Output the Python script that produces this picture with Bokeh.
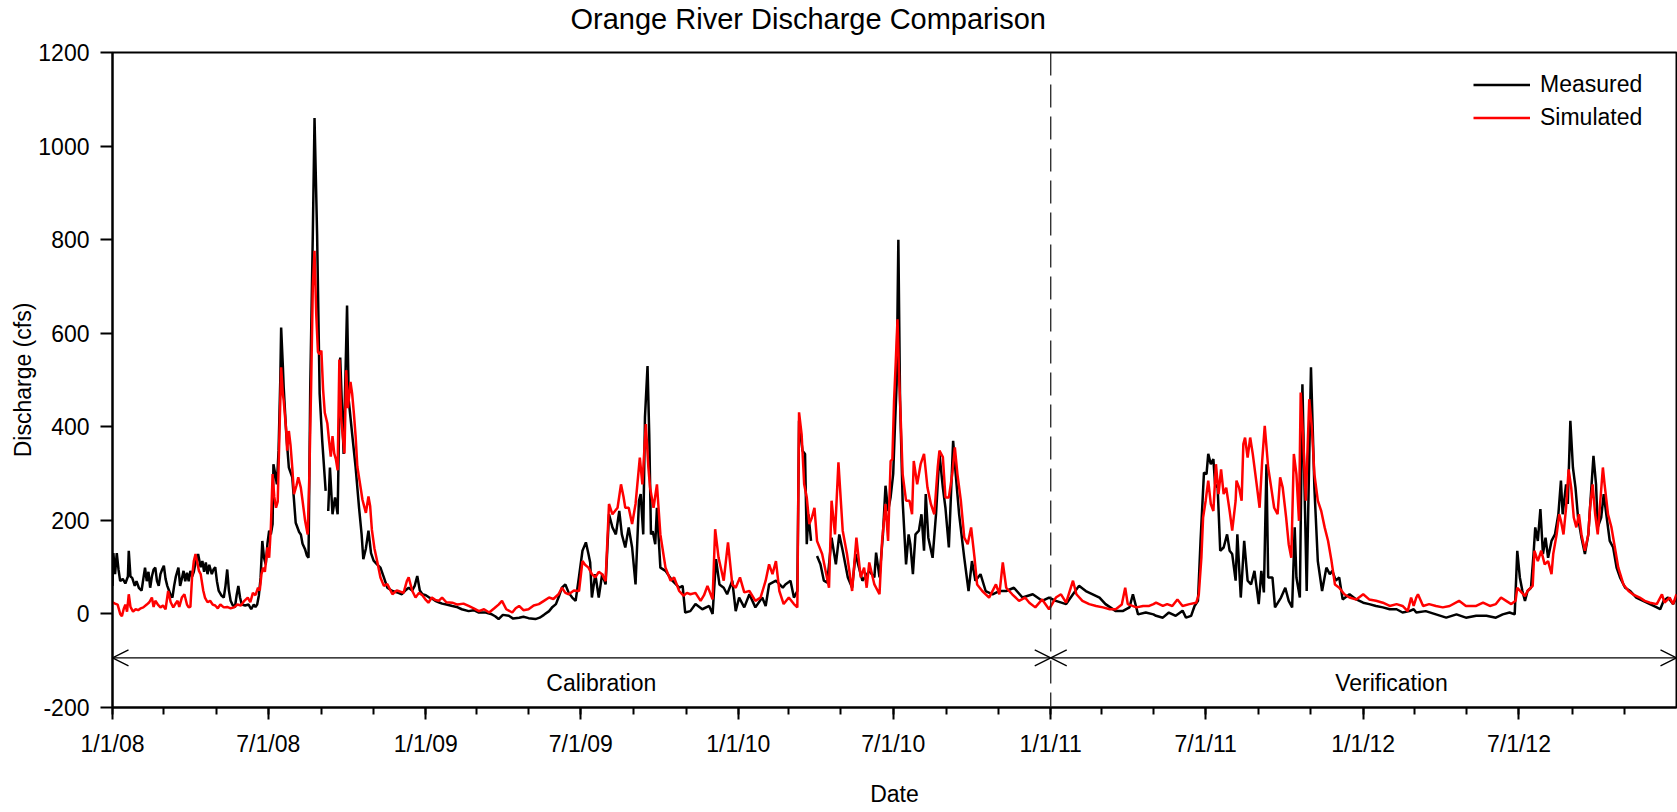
import numpy as np
import pandas as pd
from bokeh.plotting import figure
from bokeh.models import (ColumnDataSource, FixedTicker, Span, Arrow, OpenHead,
                          Label, Legend, LegendItem, Range1d, Title)
from bokeh.embed import file_html
from bokeh.resources import INLINE

NAN = float("nan")
START = "2008-01-01"
END = "2013-01-01"
SPLIT = "2011-01-01"

# ---- data: day offsets from 1/1/08 and discharge (cfs) ----
measured_day = [
    0, 1, 3, 5, 7, 9, 12, 15, 18, 19, 21, 23, 26, 28, 31, 34, 36, 38, 40, 42, 44, 46, 48, 50, 52, 54, 56, 58, 60, 62,
    64, 66, 68, 70, 72, 74, 77, 79, 81, 83, 85, 87, 89, 91, 93, 95, 97, 100, 103, 105, 107, 109, 111, 113, 116, 118,
    120, 122, 124, 127, 130, 132, 134, 136, 138, 140, 143, 145, 147, 149, 151, 155, 159, 162, 165, 167, 169, 171, 173,
    175, 177, 179, 181, 183, 185, 187, 188, 190, 192, 194, 196, 197, 199, 200, 203, 206, 210, 214, 218, 220, 222, 225,
    227, 229, 231, 234, 236, 239, 242, 245, 249, 250, 252, 254, 257, 260, 263, 266, 270, 274, 276, 280, 284, 288, 291,
    293, 296, 299, 302, 305, 309, 313, 317, 321, 327, 334, 338, 342, 346, 350, 353, 356, 359, 362, 366,
    370, 374, 377, 381, 385, 390, 397, 402, 408, 416, 422, 428, 436, 442, 447, 451, 456, 463, 468, 475, 480, 486, 494,
    499, 504, 510, 514, 518, 522, 525, 529, 533, 537, 541, 545, 549, 553, 556, 558, 560, 564, 568, 572, 576, 580, 584,
    588, 592, 595, 599, 603, 607, 611, 615, 617, 620, 622, 625, 627, 629, 631, 634, 636, 640, 646, 654, 662, 666, 669,
    675, 681, 689, 697, 701, 705, 709, 714, 718, 724, 728, 732,
    738, 744, 751, 759, 763, 767, 775, 783, 786, 792, 796, 800, 802, 806, 809, 811, 813, 816, 819, 823, 827, 831, 835,
    840, 845, 849, 853, 859, 864, 868, 872, 876, 884, 890, 892, 896, 900, 903, 906, 909, 912, 914, 916, 918, 920, 923,
    927, 930, 932, 935, 938, 942, 945, 948, 950, 953, 958, 962, 966, 970, 973, 977, 982, 985, 989, 995, 1000, 1004,
    1008, 1014, 1020, 1028, 1036, 1044, 1053, 1063, 1075, 1086, 1094,
    1102, 1114, 1122, 1129, 1137, 1145, 1153, 1160, 1172, 1180, 1188, 1192, 1198, 1207, 1216, 1219, 1227, 1234, 1242,
    1250, 1254, 1260, 1264, 1268, 1271, 1275, 1278, 1280, 1283, 1286, 1288, 1291, 1294, 1298, 1302, 1305, 1308, 1312,
    1314, 1318, 1322, 1326, 1330, 1334, 1339, 1342, 1345, 1348, 1350, 1355, 1358, 1365, 1370, 1374, 1378, 1381, 1383,
    1387, 1390, 1392, 1395, 1400, 1404, 1408, 1413, 1418, 1422, 1425, 1429, 1433, 1437, 1445, 1453, 1461,
    1468, 1476, 1484, 1492, 1500, 1507, 1515, 1520, 1523, 1534, 1546, 1558, 1570, 1581, 1593, 1605, 1616, 1624, 1632,
    1638, 1641, 1644, 1647, 1650, 1653, 1657, 1660, 1662, 1665, 1668, 1671, 1674, 1677, 1681, 1685, 1689, 1692, 1694,
    1698, 1700, 1703, 1706, 1709, 1712, 1716, 1720, 1724, 1726, 1730, 1733, 1735, 1739, 1742, 1745, 1749, 1753, 1757,
    1761, 1767, 1773, 1780, 1788, 1796, 1804, 1808, 1812, 1817, 1823, 1827,
]
measured_cfs = [
    60, 130, 85, 130, 95, 70, 75, 65, 80, 135, 80, 77, 60, 70, 55, 50, 75, 99, 70, 90, 56, 80, 95, 99, 70, 60, 85, 95, 103, 75,
    60, 50, 40, 35, 60, 80, 99, 60, 75, 92, 70, 88, 70, 92, 80, 90, 110, 128, 100, 113, 90, 110, 85, 105, 85, 95,
    100, 70, 50, 40, 35, 60, 95, 50, 28, 20, 14, 40, 60, 35, 20, 18, 20, 10, 20, 15, 20, 40, 77,
    156, 120, 106, 150, 178, 170, 192, 320, 300, 277, 349, 500, 612, 530, 484, 384, 313, 292, 195, 175, 170, 150, 138,
    125, 120, 484, 812, 1060, 812, 470, 370, 263, NAN, 220, 313, 213, 249, 213, 548, 342, 659, 456, 384, 313, 227, 170,
    117, 140, 178, 130, 114, 106, 99, 78, 56, 49, 45, 42, 50, 56, 50, 60, 81, 50, 42, 40,
    35, 32, 28, 25, 22, 20, 17, 15, 10, 6, 8, 3, 3, 0, -5, -11, -2, -4, -10, -8, -6, -9, -11,
    -8, -2, 6, 15, 21, 40, 56, 63, 45, 35, 28, 80, 135, 153, 128, 110, 35, 85, 35, 85, 63, 213, 185,
    170, 220, 170, 142, 185, 142, 63, 242, 256, 170, 420, 530, 384, 170, 177, 149, 227, 99, 92, 71, 56, 60, 3,
    6, 21, 10, 17, 0, 117, 63, 56, 42, 71, 6, 35,
    14, 42, 14, 35, 17, 63, 71, 56, 63, 71, 35, 49, 413, 349, 342, 149, 213, 156, NAN, 124, 106, 71, 67,
    163, 106, 170, 135, 78, 56, 128, 99, 71, 92, 78, 131, 78, 170, 274, 220, 250, 300, 400, 491, 800, 456, 242,
    106, 170, 149, 85, 170, 178, 213, 135, 256, 163, 120, 213, 342, 270, 227, 142, 370, 299, 213, 120, 49, 113,
    71, 85, 49, 42, 49, 49, 56, 35, 42, 28, 35,
    28, 21, 42, 60, 49, 42, 35, 21, 6, 6, 14, 42, -1, 3, -1, -4, -8, 3, -4,
    7, -8, -4, 17, 28, 156, 302, 299, 342, 320, 331, 277, 270, 135, 142, 170, 135, 128, 71,
    170, 35, 156, 71, 63, 92, 21, 92, 46, 320, 78, 78, 14, 35, 56, 28, 14, 185, 78,
    35, 491, 313, 49, 527, 270, 113, 49, 99, 85, 92, 71, 78, 31, 42, 31, 24,
    21, 17, 14, 10, 10, 3, 6, 10, 3, 6, -1, -8, -1, -8, -4, -4, -8, -1, 3,
    -1, 135, 78, 49, 28, 49, 56, 128, 185, 156, 224, 128, 163, 120, 156, 170, 213, 285, 213,
    277, 235, 413, 313, 270, 206, 163, 128, 170, 227, 338, 277, 185, 206, 256, 213, 156, 142, 99,
    78, 56, 49, 35, 28, 21, 14, 10, 28, 35, 21, 35,
]

simulated_day = [
    0, 3, 6, 9, 11, 13, 15, 17, 19, 21, 24, 27, 30, 33, 36, 40, 43, 46, 48, 50, 53, 56, 59, 62, 65, 68, 71, 73, 76, 78,
    81, 84, 87, 89, 91, 93, 95, 97, 99, 101, 103, 106, 108, 111, 114, 117, 120, 123, 126, 130, 134, 138, 142, 146, 150,
    154, 158, 161, 164, 167, 170, 172, 174, 176, 178, 181, 183, 185, 187, 189, 191, 193, 195, 197, 199, 200, 203, 204,
    206, 208, 210, 212, 215, 217, 220, 222, 225, 228, 230, 232, 234, 236, 238, 240, 242, 244, 246, 248, 251, 253, 255,
    257, 259, 261, 263, 265, 267, 269, 271, 273, 275, 278, 280, 282, 284, 286, 289, 292, 294, 296, 299, 301, 303, 306,
    309, 313, 317, 321, 327, 332, 334, 340, 344, 346, 350, 354, 358, 362, 366,
    369, 373, 377, 381, 385, 390, 397, 403, 410, 416, 422, 428, 434, 440, 446, 451, 455, 460, 467, 471, 475, 480, 486,
    492, 498, 504, 510, 515, 521, 525, 529, 533, 539, 545, 549, 552, 556, 560, 564, 568, 572, 576, 580, 584, 587, 590,
    594, 597, 599, 603, 607, 611, 616, 619, 623, 626, 628, 632, 636, 640, 646, 652, 656, 662, 667, 671, 675, 681, 687,
    691, 695, 701, 704, 708, 714, 719, 724, 728,
    733, 738, 744, 751, 757, 763, 767, 771, 775, 779, 784, 790, 796, 800, 802, 805, 808, 811, 814, 817, 820, 823, 829,
    837, 840, 844, 848, 853, 858, 864, 869, 874, 878, 881, 884, 890, 896, 899, 903, 906, 909, 911, 913, 915, 917, 919,
    920, 923, 927, 931, 934, 936, 940, 944, 948, 952, 956, 960, 964, 966, 970, 973, 977, 981, 984, 987, 991, 995, 999,
    1003, 1007, 1010, 1016, 1024, 1032, 1036, 1040, 1044, 1051, 1059, 1066, 1071, 1078, 1086, 1094,
    1102, 1108, 1114, 1122, 1126, 1133, 1141, 1149, 1157, 1165, 1172, 1179, 1183, 1186, 1196, 1204, 1211, 1216, 1219,
    1227, 1232, 1238, 1244, 1250, 1258, 1266, 1269, 1272, 1274, 1277, 1280, 1283, 1286, 1289, 1292, 1295, 1298, 1301,
    1305, 1308, 1312, 1313, 1316, 1319, 1321, 1323, 1326, 1329, 1332, 1336, 1340, 1343, 1346, 1350, 1353, 1357, 1361,
    1364, 1367, 1371, 1374, 1377, 1380, 1383, 1386, 1388, 1391, 1394, 1398, 1401, 1404, 1408, 1412, 1416, 1420, 1424,
    1428, 1433, 1439, 1445, 1453, 1461,
    1468, 1476, 1484, 1492, 1500, 1507, 1513, 1517, 1520, 1523, 1525, 1531, 1538, 1546, 1554, 1562, 1573, 1581, 1593,
    1601, 1609, 1616, 1622, 1628, 1634, 1639, 1641, 1646, 1650, 1653, 1659, 1661, 1665, 1669, 1673, 1677, 1681, 1683,
    1687, 1690, 1692, 1695, 1698, 1701, 1704, 1707, 1710, 1713, 1716, 1720, 1724, 1726, 1729, 1732, 1735, 1741, 1743,
    1747, 1751, 1755, 1759, 1765, 1771, 1776, 1784, 1790, 1796, 1804, 1810, 1813, 1819, 1823, 1827,
]
simulated_cfs = [
    25, 22, 20, 0, -5, 10, 20, 5, 42, 15, 5, 10, 8, 12, 14, 20, 25, 35, 15, 28, 20, 14, 18, 10, 49, 25, 14, 20, 28, 15,
    35, 42, 20, 14, 15, 80, 113, 128, 110, 92, 85, 50, 35, 25, 28, 20, 18, 12, 20, 14, 15, 12, 14, 20, 18,
    28, 35, 25, 45, 40, 56, 50, 85, 99, 90, 142, 120, 185, 299, 250, 227, 240, 384, 527, 470, 456, 390, 349,
    391, 360, 313, 256, 275, 292, 270, 242, 199, 170, 300, 484, 700, 776, 640, 560, 555, 563, 480, 430, 407, 370, 336,
    380, 343, 330, 307, 544, 420, 380, 343, 521, 440, 496, 470, 428, 380, 315, 280, 244, 230, 216, 251, 230, 180, 140,
    114, 78, 60, 64, 42, 50, 49, 45, 71, 78, 50, 35, 45, 40, 30,
    24, 35, 30, 28, 35, 25, 24, 20, 22, 17, 12, 6, 10, 3, 12, 20, 28, 10, 3, 12, 17, 8, 10,
    18, 21, 28, 35, 32, 42, 56, 45, 42, 50, 49, 113, 105, 99, 85, 78, 90, 85, 70, 235, 213, 220, 227,
    277, 250, 227, 227, 192, 235, 334, 277, 406, 313, 270, 227, 277, 170, 99, 71, 78, 49, 39, 45, 42, 45, 28,
    40, 60, 31, 181, 120, 71, 153, 63, 56,
    78, 46, 49, 28, 35, 71, 106, 85, 113, 49, 21, 35, 21, 14, 431, 384, 277, 249, 192, 206, 227, 156, 128,
    56, 242, 170, 324, 178, 128, 49, 163, 78, 99, 56, 110, 63, 42, 156, 235, 156, 327, 330, 456, 540, 630, 500,
    456, 299, 242, 242, 213, 327, 277, 320, 342, 270, 235, 213, 313, 349, 335, 249, 249, 299, 356, 299, 242, 163, 149,
    185, 120, 63, 49, 35, 63, 42, 110, 56, 42, 28, 35, 24, 14, 31, 10,
    35, 42, 24, 71, 42, 28, 21, 17, 14, 10, 10, 20, 56, 21, 14, 17, 17, 21, 24,
    17, 21, 17, 31, 17, 21, 24, 42, 120, 206, 242, 285, 235, 220, 320, 256, 309, 256, 270,
    220, 178, 242, 285, 270, 242, 363, 377, 334, 377, 342, 285, 227, 327, 402, 313, 277, 227, 213,
    292, 270, 206, 149, 120, 342, 299, 199, 473, 370, 242, 459, 399, 299, 242, 220, 185, 156, 113,
    63, 56, 42, 35, 31, 42,
    31, 28, 24, 17, 21, 17, 6, 35, 17, 35, 42, 17, 21, 17, 14, 17, 28, 17, 17,
    24, 17, 21, 35, 28, 21, 28, 56, 46, 38, 49, 60, 135, 113, 135, 106, 113, 85, 128,
    170, 213, 199, 170, 227, 309, 270, 206, 185, 213, 170, 135, 170, 227, 277, 213, 170, 313, 277,
    213, 185, 142, 99, 63, 49, 42, 35, 28, 24, 21, 42, 24, 35, 21, 42,
]

y_ticks = [-200, 0, 200, 400, 600, 800, 1000, 1200]
y_tick_labels = ["-200", "0", "200", "400", "600", "800", "1000", "1200"]
x_major_dates = ["2008-01-01", "2008-07-01", "2009-01-01", "2009-07-01", "2010-01-01",
                 "2010-07-01", "2011-01-01", "2011-07-01", "2012-01-01", "2012-07-01"]
x_major_labels = ["1/1/08", "7/1/08", "1/1/09", "7/1/09", "1/1/10",
                  "7/1/10", "1/1/11", "7/1/11", "1/1/12", "7/1/12"]
x_minor_dates = [f"{y}-{m:02d}-01" for y in range(2008, 2013) for m in (1, 3, 5, 7, 9, 11)]

period_names = ["Calibration", "Verification"]
period_start = [START, SPLIT]
period_end = [SPLIT, END]
period_label_date = ["2009-07-25", "2012-02-03"]
arrow_level = -94
period_label_level = -147

FONT = "Liberation Sans"
FS = "23px"
LW = 2.5


def ms(d):
    return pd.Timestamp(d).value // 10**6


t0 = pd.Timestamp(START)
meas_src = ColumnDataSource(dict(
    x=t0 + pd.to_timedelta(np.array(measured_day, dtype=float), unit="D"),
    y=np.array(measured_cfs, dtype=float)))
sim_src = ColumnDataSource(dict(
    x=t0 + pd.to_timedelta(np.array(simulated_day, dtype=float), unit="D"),
    y=np.array(simulated_cfs, dtype=float)))

p = figure(width=1677, height=811, x_axis_type="datetime",
           x_range=Range1d(pd.Timestamp(START), pd.Timestamp(END)),
           y_range=Range1d(-200, 1200),
           output_backend="svg", toolbar_location=None,
           min_border_left=112, min_border_right=1, min_border_top=52, min_border_bottom=104)
p.background_fill_color = "white"
p.border_fill_color = "white"
p.outline_line_color = "black"
p.outline_line_width = 2
p.xgrid.visible = False
p.ygrid.visible = False

# an empty spacer next to the frame, then the title above it
spacer = Title(text=" ", text_font_size="1px", standoff=13)
p.add_layout(spacer, "above")
title = Title(text="Orange River Discharge Comparison", align="left", offset=458,
              vertical_align="top", standoff=0,
              text_font=FONT, text_font_size="29px", text_font_style="normal",
              text_color="black")
p.add_layout(title, "above")

r_meas = p.line("x", "y", source=meas_src, line_color="black", line_width=LW)
r_sim = p.line("x", "y", source=sim_src, line_color="#ff0000", line_width=LW)

# axes
xa = p.xaxis[0]
xa.ticker = FixedTicker(ticks=[ms(d) for d in x_major_dates],
                        minor_ticks=[ms(d) for d in x_minor_dates])
xa.major_label_overrides = {ms(d): lab for d, lab in zip(x_major_dates, x_major_labels)}
xa.axis_label = "Date"
ya = p.yaxis[0]
ya.ticker = FixedTicker(ticks=y_ticks)
ya.major_label_overrides = {t: lab for t, lab in zip(y_ticks, y_tick_labels)}
ya.axis_label = "Discharge (cfs)"
for ax in (xa, ya):
    ax.axis_line_width = 2
    ax.major_tick_line_width = 2
    ax.minor_tick_line_width = 2
    ax.major_tick_in = 0
    ax.major_tick_out = 12
    ax.minor_tick_in = 0
    ax.minor_tick_out = 7
    ax.major_label_text_font = FONT
    ax.major_label_text_font_size = FS
    ax.major_label_text_color = "black"
    ax.axis_label_text_font = FONT
    ax.axis_label_text_font_size = FS
    ax.axis_label_text_font_style = "normal"
    ax.axis_label_text_color = "black"
ya.minor_tick_line_color = None
xa.major_label_standoff = 11
xa.axis_label_standoff = 21
ya.major_label_standoff = 11
ya.axis_label_standoff = -1

# split line
p.add_layout(Span(location=ms(SPLIT), dimension="height", line_color="#222222",
                  line_width=1.3, line_dash="23 9"))

# period arrows and labels
for name, s, e, ld in zip(period_names, period_start, period_end, period_label_date):
    p.add_layout(Arrow(x_start=ms(s), y_start=arrow_level, x_end=ms(e), y_end=arrow_level,
                       start=OpenHead(size=16, line_width=1.3, line_color="black"),
                       end=OpenHead(size=16, line_width=1.3, line_color="black"),
                       line_width=1.3, line_color="black"))
    p.add_layout(Label(x=ms(ld), y=period_label_level, text=name, text_align="center",
                       text_baseline="middle", text_font=FONT, text_font_size=FS,
                       text_color="black"))

legend = Legend(items=[LegendItem(label="Measured", renderers=[r_meas]),
                       LegendItem(label="Simulated", renderers=[r_sim])],
                location=(1361, 576), label_text_font=FONT, label_text_font_size=FS,
                label_text_color="black", glyph_width=57, glyph_height=25, label_height=25,
                label_standoff=10, spacing=6, padding=0, margin=0,
                border_line_alpha=0, background_fill_alpha=0)
p.add_layout(legend)

open("out.html", "w").write(file_html(p, INLINE))
